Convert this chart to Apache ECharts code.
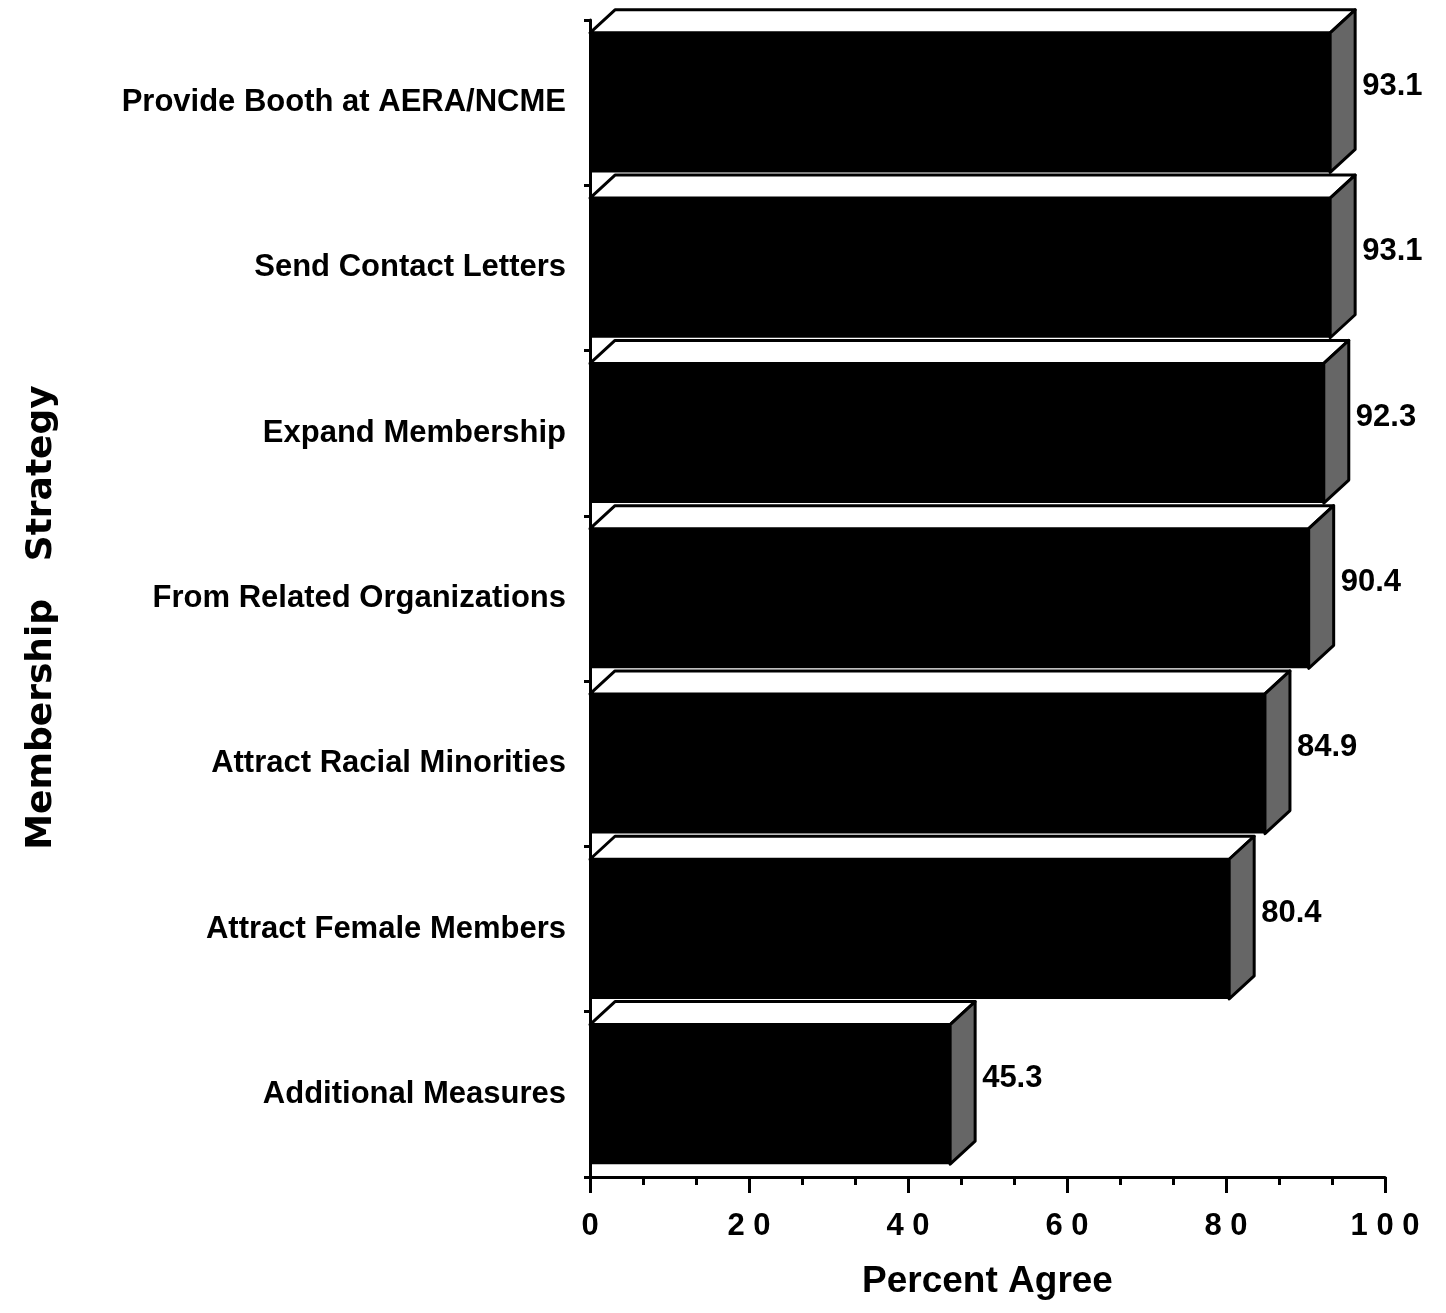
<!DOCTYPE html>
<html>
<head>
<meta charset="utf-8">
<script src="https://cdn.jsdelivr.net/npm/echarts@6/dist/echarts.min.js"></script>
<style>
  html, body { margin: 0; padding: 0; background: #ffffff; }
  #chart { width: 1446px; height: 1313px; }
</style>
</head>
<body>
<div id="chart"></div>
<script>
// Membership strategies, top to bottom
const categories = [
  'Provide Booth at AERA/NCME',
  'Send Contact Letters',
  'Expand Membership',
  'From Related Organizations',
  'Attract Racial Minorities',
  'Attract Female Members',
  'Additional Measures'
];
// Percent of respondents who agree
const percentAgree = [93.1, 93.1, 92.3, 90.4, 84.9, 80.4, 45.3];
// Spaced-out tick labels on the percent axis
const xTickLabels = { 0: '0', 20: '2 0', 40: '4 0', 60: '6 0', 80: '8 0', 100: '1 0 0' };

const FONT = '"Liberation Sans", Arial, Helvetica, sans-serif';
const DEPTH_X = 25;   // horizontal offset of the box's back face
const DEPTH_Y = 23;   // vertical offset of the box's back face

// Draws one bar as a 3D box: black front, white top, grey right side
function renderBox(params, api) {
  const v = api.value(0);
  const idx = api.value(1);
  const band = api.size([0, 1])[1];
  const h = band * 0.845;
  const start = api.coord([0, idx]);
  const end = api.coord([v, idx]);
  const x0 = start[0], x1 = end[0], yc = start[1];
  const top = yc - h / 2, bot = yc + h / 2;
  return {
    type: 'group',
    children: [
      {
        type: 'polygon',
        shape: { points: [[x0, top], [x0 + DEPTH_X, top - DEPTH_Y], [x1 + DEPTH_X, top - DEPTH_Y], [x1, top]] },
        style: { fill: '#ffffff', stroke: '#000000', lineWidth: 3, lineJoin: 'round' }
      },
      {
        type: 'polygon',
        shape: { points: [[x1, top], [x1 + DEPTH_X, top - DEPTH_Y], [x1 + DEPTH_X, bot - DEPTH_Y], [x1, bot]] },
        style: { fill: '#666666', stroke: '#000000', lineWidth: 3, lineJoin: 'round' }
      },
      {
        type: 'rect',
        shape: { x: x0, y: top, width: x1 - x0, height: h },
        style: { fill: '#000000' }
      },
      {
        type: 'text',
        style: {
          text: v.toFixed(1),
          x: x1 + DEPTH_X + 7,
          y: yc - 16,
          align: 'left',
          verticalAlign: 'middle',
          fontFamily: FONT,
          fontWeight: 'bold',
          fontSize: 31,
          fill: '#000000'
        }
      }
    ]
  };
}

const chart = echarts.init(document.getElementById('chart'), null, { renderer: 'canvas' });

chart.setOption({
  backgroundColor: '#ffffff',
  animation: false,
  grid: { left: 590, right: 61, top: 20, bottom: 136, containLabel: false, outerBoundsMode: 'none' },
  xAxis: {
    type: 'value',
    min: 0,
    max: 100,
    interval: 20,
    name: 'Percent Agree',
    nameLocation: 'middle',
    nameGap: 86,
    nameTextStyle: { fontFamily: FONT, fontWeight: 'bold', fontSize: 37, color: '#000000' },
    axisLine: { show: true, lineStyle: { color: '#000000', width: 3 } },
    axisTick: { show: true, length: 16, lineStyle: { color: '#000000', width: 3 } },
    minorTick: { show: true, splitNumber: 3, length: 8, lineStyle: { color: '#000000', width: 3 } },
    splitLine: { show: false },
    axisLabel: {
      margin: 34,
      fontFamily: FONT,
      fontWeight: 'bold',
      fontSize: 31,
      color: '#000000',
      formatter: (val) => xTickLabels[val] !== undefined ? xTickLabels[val] : ''
    }
  },
  yAxis: {
    type: 'category',
    inverse: true,
    data: categories,
    name: 'Membership   Strategy',
    nameLocation: 'middle',
    nameRotate: 90,
    nameGap: 530,
    nameTextStyle: {
      fontFamily: '"DejaVu Sans", sans-serif',
      fontWeight: 'bold',
      fontSize: 36,
      color: '#000000',
      padding: [0, 38, 0, 0]
    },
    axisLine: { show: true, lineStyle: { color: '#000000', width: 3 } },
    axisTick: { show: true, length: 6, lineStyle: { color: '#000000', width: 3 } },
    splitLine: { show: false },
    axisLabel: {
      margin: 24,
      fontFamily: FONT,
      fontWeight: 'bold',
      fontSize: 31,
      color: '#000000'
    }
  },
  series: [{
    type: 'custom',
    clip: false,
    renderItem: renderBox,
    encode: { x: 0, y: 1 },
    data: percentAgree.map((v, i) => [v, i]),
    z: 3
  }]
});
</script>
</body>
</html>
